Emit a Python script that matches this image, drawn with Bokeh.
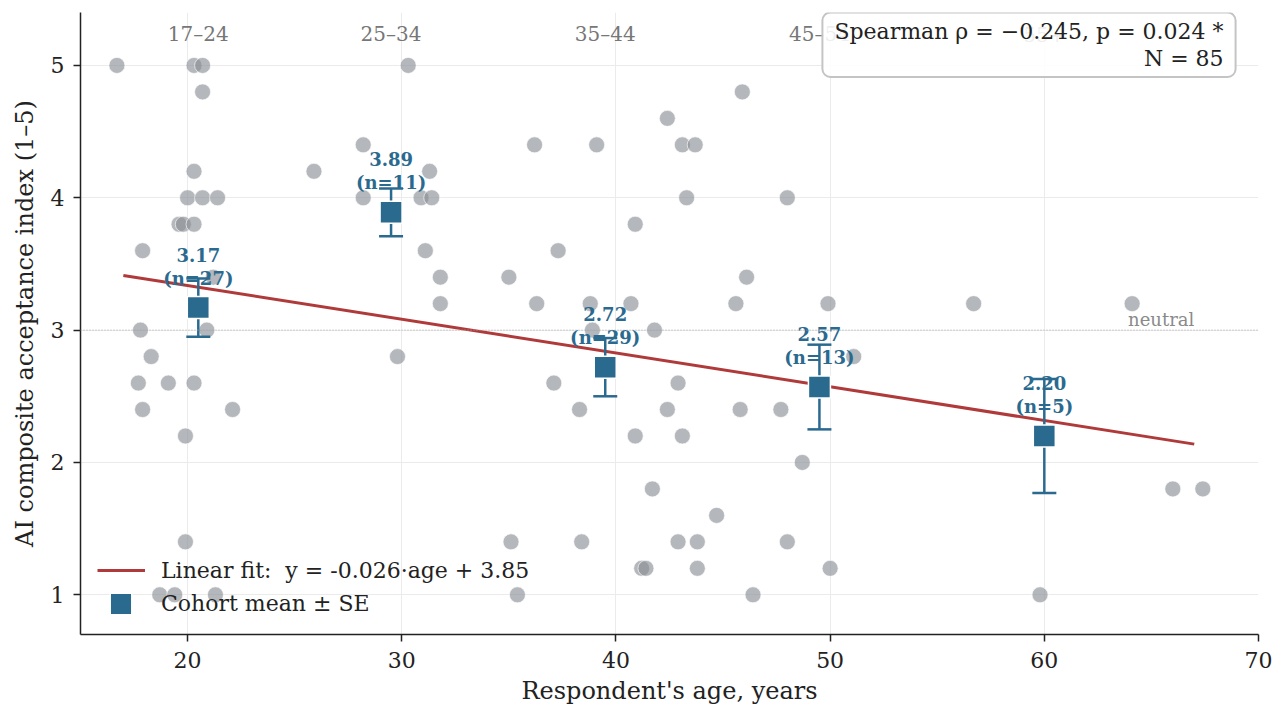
from bokeh.plotting import figure
from bokeh.models import ColumnDataSource, Range1d, Span, Label, Legend, LegendItem
from bokeh.core.properties import value
from bokeh.embed import file_html
from bokeh.resources import INLINE

FONT = "DejaVu Serif"
BLUE = "#2b6a8f"
RED = "#b03a3a"

# ---------------- data ----------------
ages = [
    # 17–24
    16.7, 20.3, 20.7, 20.7, 20.3, 20.0, 20.7, 21.4, 19.6, 19.8, 20.3, 17.9, 21.2, 20.6,
    17.8, 20.9, 18.3, 17.7, 19.1, 20.3, 17.9, 22.1, 19.9, 19.9, 18.7, 19.4, 21.3,
    # 25–34
    30.3, 28.2, 25.9, 31.3, 28.2, 30.9, 31.4, 31.1, 31.8, 31.8, 29.8,
    # 35–44
    42.4, 36.2, 39.1, 43.1, 43.7, 43.3, 40.9, 37.3, 35.0, 36.3, 38.8, 40.7, 38.9, 41.8,
    37.1, 42.9, 38.3, 42.4, 40.9, 43.1, 41.7, 35.1, 38.4, 42.9, 43.8, 41.2, 41.4, 43.8, 35.4,
    # 45–54
    45.9, 48.0, 46.1, 45.6, 49.9, 51.1, 45.8, 47.7, 48.7, 44.7, 48.0, 50.0, 46.4,
    # 55+
    56.7, 64.1, 66.0, 67.4, 59.8,
]
scores = [
    5.0, 5.0, 5.0, 4.8, 4.2, 4.0, 4.0, 4.0, 3.8, 3.8, 3.8, 3.6, 3.4, 3.2,
    3.0, 3.0, 2.8, 2.6, 2.6, 2.6, 2.4, 2.4, 2.2, 1.4, 1.0, 1.0, 1.0,
    5.0, 4.4, 4.2, 4.2, 4.0, 4.0, 4.0, 3.6, 3.4, 3.2, 2.8,
    4.6, 4.4, 4.4, 4.4, 4.4, 4.0, 3.8, 3.6, 3.4, 3.2, 3.2, 3.2, 3.0, 3.0,
    2.6, 2.6, 2.4, 2.4, 2.2, 2.2, 1.8, 1.4, 1.4, 1.4, 1.4, 1.2, 1.2, 1.2, 1.0,
    4.8, 4.0, 3.4, 3.2, 3.2, 2.8, 2.4, 2.4, 2.0, 1.6, 1.4, 1.2, 1.0,
    3.2, 3.2, 1.8, 1.8, 1.0,
]

cohorts = ["17–24", "25–34", "35–44", "45–54", "55+"]
cohort_mid = [20.5, 29.5, 39.5, 49.5, 60.0]
cohort_mean = [3.17, 3.89, 2.72, 2.57, 2.20]
cohort_se = [0.22, 0.18, 0.22, 0.32, 0.43]
cohort_n = [27, 11, 29, 13, 5]

fit_slope = -0.0255
fit_intercept = 3.847
fit_age_range = [17, 67]          # youngest / oldest respondent (whole years)
fit_label = "Linear fit:  y = -0.026·age + 3.85"
stats_text = "Spearman ρ = −0.245, p = 0.024 *\nN = 85"
neutral_level = 3.0

x_ticks = [20, 30, 40, 50, 60, 70]
y_ticks = [1, 2, 3, 4, 5]

# ---------------- figure ----------------
p = figure(width=1273, height=707, x_range=Range1d(15, 70), y_range=Range1d(0.7, 5.4),
           output_backend="svg", toolbar_location=None,
           min_border_left=80, min_border_right=15, min_border_top=12, min_border_bottom=73)
p.outline_line_color = None
p.background_fill_color = "white"
p.border_fill_color = "white"

p.xaxis.ticker = x_ticks
p.yaxis.ticker = y_ticks
p.grid.grid_line_color = "#ebebeb"
p.grid.grid_line_width = 1

for ax in (p.xaxis, p.yaxis):
    ax.axis_line_color = "#222222"
    ax.axis_line_width = 1.5
    ax.major_tick_line_color = "#222222"
    ax.major_tick_line_width = 1.5
    ax.major_tick_out = 7
    ax.major_tick_in = 0
    ax.minor_tick_out = 0
    ax.minor_tick_in = 0
    ax.major_label_text_font = FONT
    ax.major_label_text_font_size = "22px"
    ax.major_label_text_color = "#222222"
    ax.axis_label_text_font = FONT
    ax.axis_label_text_font_size = "24px"
    ax.axis_label_text_font_style = "normal"
    ax.axis_label_text_color = "#222222"

p.xaxis.axis_label = "Respondent's age, years"
p.yaxis.axis_label = "AI composite acceptance index (1–5)"
p.xaxis.major_label_standoff = 10
p.xaxis.axis_label_standoff = 6
p.yaxis.major_label_standoff = 9
p.yaxis.axis_label_standoff = 9

# individual respondents
p.scatter(ages, scores, size=16, fill_color="#8c9196", fill_alpha=0.65,
          line_color="white", line_width=0.8, line_alpha=0.8)

# neutral reference
p.add_layout(Span(location=neutral_level, dimension="width", line_color="#a8a8a8",
                  line_dash="1 2", line_width=1))
p.text(x=[67.0], y=[neutral_level], text=["neutral"], text_font=value(FONT),
       text_font_size="18px", text_color="#8a8a8a", text_align="right",
       text_baseline="alphabetic", y_offset=-11)

# linear fit
fy = [fit_slope * x + fit_intercept for x in fit_age_range]
fit_r = p.line(fit_age_range, fy, line_color=RED, line_width=3)

# cohort means ± SE
src = ColumnDataSource(dict(
    x=cohort_mid,
    mean=cohort_mean,
    lower=[m - s for m, s in zip(cohort_mean, cohort_se)],
    upper=[m + s for m, s in zip(cohort_mean, cohort_se)],
    label=[f"{m:.2f}\n(n={n})" for m, n in zip(cohort_mean, cohort_n)],
))
p.segment(x0="x", y0="lower", x1="x", y1="upper", source=src, line_color=BLUE, line_width=2.5)
p.scatter(x="x", y="lower", marker="dash", size=24, source=src, line_color=BLUE, line_width=2.5)
p.scatter(x="x", y="upper", marker="dash", size=24, source=src, line_color=BLUE, line_width=2.5)
sq_r = p.rect(x="x", y="mean", width=22, height=22, width_units="screen", height_units="screen",
              source=src, fill_color=BLUE, line_color="white", line_width=1.5)
p.text(x="x", y="mean", text="label", source=src, text_font=value(FONT),
       text_font_size="18px", text_font_style="bold", text_color=BLUE,
       text_align="center", text_baseline="bottom", y_offset=-19, text_line_height=1.1)

# cohort names at top
label_y = 5.235
p.text(x=cohort_mid, y=[label_y] * len(cohorts), text=cohorts, text_font=value(FONT),
       text_font_size="20px", text_color="#777777", text_align="center", text_baseline="middle")

# stats box
p.add_layout(Label(x=68.93, y=5.4, text=stats_text, text_align="right", text_baseline="top",
                   text_font=FONT, text_font_size="22px", text_color="#222222",
                   text_line_height=1.1,
                   background_fill_color="white", background_fill_alpha=0.88,
                   border_line_color="#c4c4c4", border_line_width=2, border_radius=8,
                   padding=dict(left=12, right=12, top=6, bottom=6)))

# legends
common = dict(background_fill_alpha=0, border_line_alpha=0, label_text_font=FONT,
              label_text_font_size="22px", label_text_color="#222222", margin=0, padding=5)
leg1 = Legend(items=[LegendItem(label=fit_label, renderers=[fit_r])], location=(12, 45),
              glyph_width=48, glyph_height=28, label_standoff=16, **common)
leg2 = Legend(items=[LegendItem(label="Cohort mean ± SE", renderers=[sq_r])], location=(22, 12),
              glyph_width=27, glyph_height=27, label_standoff=27, **common)
p.add_layout(leg1)
p.add_layout(leg2)

open("out.html", "w").write(file_html(p, INLINE))
